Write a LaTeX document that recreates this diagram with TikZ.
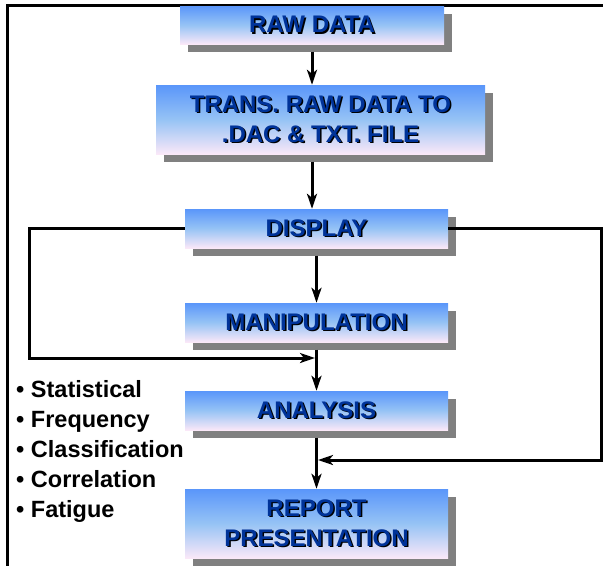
\documentclass[tikz,border=0pt]{standalone}
\usepackage{fontspec}
\setmainfont{Liberation Sans}
\usetikzlibrary{arrows.meta}
\usetikzlibrary{shadows}

\definecolor{boxtop}{RGB}{90,150,250}
\definecolor{boxmid}{RGB}{150,195,245}
\definecolor{boxbot}{RGB}{250,232,248}
\definecolor{labelblue}{RGB}{0,51,153}

\newcommand{\shtext}[1]{\makebox[0pt][l]{\hspace{1.5pt}\raisebox{-1.5pt}{\color{black}#1}}{\color{labelblue}#1}}

\tikzset{
  stepbox/.style={rectangle, minimum width=263pt, inner sep=0pt,
    top color=boxtop, bottom color=boxbot, middle color=boxmid,
    drop shadow={shadow xshift=7.5pt, shadow yshift=-7.5pt, fill=black!50, opacity=1},
    font=\fontsize{24}{30}\selectfont\bfseries, align=center},
  flow/.style={line width=3pt, -{Stealth[length=15pt,width=10pt,inset=4pt]}},
  bulletitem/.style={anchor=base west, inner sep=0pt, font=\fontsize{23.5}{30}\selectfont\bfseries}
}

\begin{document}
\begin{tikzpicture}[x=1pt, y=-1pt]
    \useasboundingbox (0,0) rectangle (603,566);
    % frame
    \draw[line width=3pt] (603,5) -- (7,5) -- (7,566);

    \node[stepbox, minimum width=264pt, minimum height=38pt] (raw) at (312,25) {\shtext{RAW DATA}};
    \node[stepbox, minimum width=329pt, minimum height=69pt] (trans) at (320.5,119.5) {\shtext{TRANS. RAW DATA TO}\\\shtext{.DAC \& TXT. FILE}};
    \node[stepbox, minimum height=39pt] (disp) at (316.5,228.5) {\shtext{DISPLAY}};
    \node[stepbox, minimum height=39pt] (manip) at (316.5,322.5) {\shtext{MANIPULATION}};
    \node[stepbox, minimum height=39pt] (anal) at (316.5,410.5) {\shtext{ANALYSIS}};
    \node[stepbox, minimum height=69pt] (report) at (316.5,523.5) {\shtext{REPORT}\\\shtext{PRESENTATION}};

    \draw[flow, shorten <=7.5pt] (raw.south) -- (raw.south |- trans.north);
    \draw[flow, shorten <=7.5pt] (trans.south -| raw.south) -- (raw.south |- disp.north);
    \draw[flow, shorten <=7.5pt] (disp.south) -- (manip.north);
    \draw[flow, shorten <=7.5pt] (manip.south) -- (anal.north);
    \draw[flow, shorten <=7.5pt] (anal.south) -- (report.north);

    % feedback loops
    \coordinate (lcorner) at (29,358);
    \coordinate (rcorner) at (601,460);
    \draw[flow, shorten >=1.5pt] (disp.west) -| (lcorner) -- (manip.south |- lcorner);
    \draw[flow, shorten >=1.5pt] (disp.east) -| (rcorner) -- (anal.south |- rcorner);

    \foreach \word [count=\i from 0] in {Statistical, Frequency, Classification, Correlation, Fatigue}
        \node[bulletitem] (item\i) at (16,{397+30*\i}) {\textbullet\ \word};
\end{tikzpicture}
\end{document}
